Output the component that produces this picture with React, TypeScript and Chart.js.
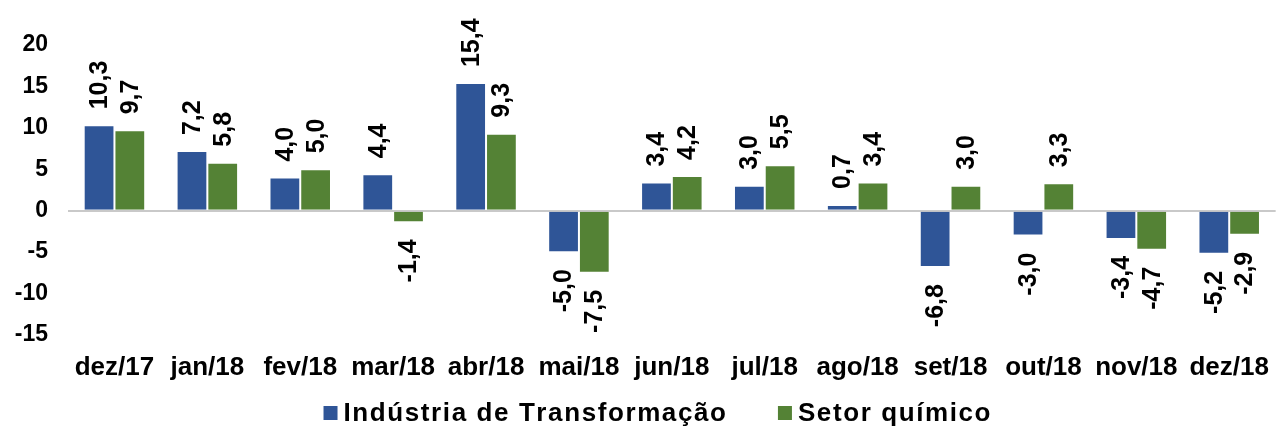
import React, { useEffect, useRef } from "react";
import { Chart, registerables } from "chart.js";

Chart.register(...registerables);

const categories = ["dez/17", "jan/18", "fev/18", "mar/18", "abr/18", "mai/18", "jun/18", "jul/18", "ago/18", "set/18", "out/18", "nov/18", "dez/18"];
const industria = [10.3, 7.2, 4.0, 4.4, 15.4, -5.0, 3.4, 3.0, 0.7, -6.8, -3.0, -3.4, -5.2];
const quimico = [9.7, 5.8, 5.0, -1.4, 9.3, -7.5, 4.2, 5.5, 3.4, 3.0, 3.3, -4.7, -2.9];
const seriesNames = ["Indústria de Transformação", "Setor químico"];
const seriesColors = ["#2F5597", "#548235"];
const yMin = -15;
const yMax = 20;
const yStep = 5;

const FONT = "'Liberation Sans', Arial, sans-serif";
const CANVAS_W = 1286;
const VIEW_W = 1278;
const VIEW_H = 430;

const fmt = (v: number) => v.toFixed(1).replace(".", ",");

const dataLabelPlugin = {
  id: "dataLabels",
  afterDatasetsDraw(chart: any) {
    const ctx = chart.ctx;
    ctx.save();
    ctx.font = `bold 25px ${FONT}`;
    ctx.fillStyle = "#000";
    ctx.textBaseline = "middle";
    chart.data.datasets.forEach((ds: any, di: number) => {
      const meta = chart.getDatasetMeta(di);
      meta.data.forEach((el: any, i: number) => {
        const v = ds.data[i];
        ctx.save();
        if (v >= 0) {
          ctx.translate(el.x, el.y - 16);
          ctx.rotate(-Math.PI / 2);
          ctx.textAlign = "left";
        } else {
          ctx.translate(el.x, el.y + 17);
          ctx.rotate(-Math.PI / 2);
          ctx.textAlign = "right";
        }
        ctx.fillText(fmt(v), 0, 1);
        ctx.restore();
      });
    });
    ctx.restore();
  },
};

const legendPlugin = {
  id: "customLegend",
  afterDraw(chart: any) {
    const ctx = chart.ctx;
    ctx.save();
    ctx.font = `bold 26px ${FONT}`;
    const spacing = 1.6;
    const box = 14;
    const boxGap = 6;
    const itemGap = 52;
    const textWidth = (t: string) => {
      let w = 0;
      for (const ch of t) w += ctx.measureText(ch).width + spacing;
      return w - spacing;
    };
    const widths = seriesNames.map((n) => box + boxGap + textWidth(n));
    const total = widths.reduce((a, b) => a + b, 0) + itemGap * (seriesNames.length - 1);
    let x = VIEW_W / 2 + 18 - total / 2;
    const baseline = 421;
    seriesNames.forEach((name, i) => {
      ctx.fillStyle = seriesColors[i];
      ctx.fillRect(x, baseline - 15, box, box);
      let tx = x + box + boxGap;
      ctx.fillStyle = "#000";
      ctx.textBaseline = "alphabetic";
      ctx.textAlign = "left";
      for (const ch of name) {
        ctx.fillText(ch, tx, baseline);
        tx += ctx.measureText(ch).width + spacing;
      }
      x += widths[i] + itemGap;
    });
    ctx.restore();
  },
};

export default function App() {
  const ref = useRef<HTMLCanvasElement>(null);
  useEffect(() => {
    if (!ref.current) return;
    const chart = new Chart(ref.current, {
      type: "bar",
      data: {
        labels: categories,
        datasets: [
          {
            label: seriesNames[0],
            data: industria,
            backgroundColor: seriesColors[0],
            borderColor: "rgba(255,255,255,0.5)",
            borderWidth: 1,
            categoryPercentage: 0.662,
            barPercentage: 1.0,
          },
          {
            label: seriesNames[1],
            data: quimico,
            backgroundColor: seriesColors[1],
            borderColor: "rgba(255,255,255,0.5)",
            borderWidth: 1,
            categoryPercentage: 0.662,
            barPercentage: 1.0,
          },
        ],
      },
      options: {
        responsive: false,
        animation: false,
        layout: { padding: { top: 45, right: 1, left: 0, bottom: 0 } },
        plugins: {
          legend: { display: false },
          tooltip: { enabled: false },
          title: { display: false },
        },
        scales: {
          x: {
            grid: { display: false, drawTicks: false },
            border: { display: false },
            ticks: {
              color: "#000",
              font: { family: FONT, size: 26, weight: "bold" },
              padding: 17,
              maxRotation: 0,
              autoSkip: false,
            },
            afterFit(scale: any) {
              scale.height = 95;
            },
          },
          y: {
            min: yMin,
            max: yMax,
            grid: {
              drawTicks: false,
              lineWidth: 2,
              color: (c: any) => (c.tick && c.tick.value === 0 ? "#c9c9c9" : "rgba(0,0,0,0)"),
            },
            border: { display: false },
            ticks: {
              stepSize: yStep,
              color: "#000",
              font: { family: FONT, size: 23, weight: "bold" },
              padding: 20,
            },
            afterFit(scale: any) {
              scale.width = 68;
            },
          },
        },
      },
      plugins: [dataLabelPlugin, legendPlugin],
    });
    return () => chart.destroy();
  }, []);
  return (
    <div style={{ position: "absolute", left: 0, top: 0, width: VIEW_W, height: VIEW_H, overflow: "hidden", background: "#fff" }}>
      <canvas ref={ref} width={CANVAS_W} height={VIEW_H} style={{ display: "block" }} />
    </div>
  );
}
